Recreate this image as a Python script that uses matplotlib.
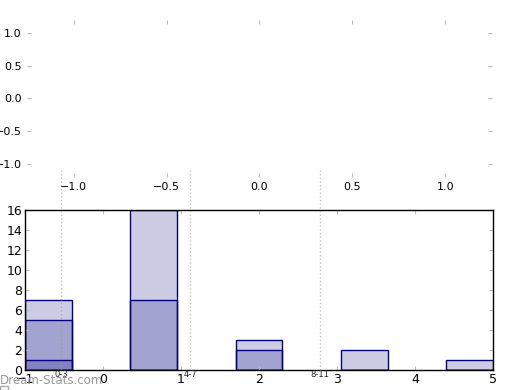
import matplotlib
matplotlib.use("Agg")
import matplotlib.pyplot as plt
from matplotlib.patches import Rectangle

# bar groups (left edges) and the three overlapping series
bar_left = [-1.0, 0.35, 1.7, 3.05, 4.4]
series_a = [7, 16, 3, 2, 1]
series_b = [5, 7, 2, 0, 0]
series_c = [1, 0, 0, 0, 0]

# dotted range markers
range_pos = [-0.54, 1.12, 2.78]
range_labels = ["0-3", "4-7", "8-11"]

x_ticks = [-1, 0, 1, 2, 3, 4, 5]
y_ticks = [0, 2, 4, 6, 8, 10, 12, 14, 16]
top_ticks = [-1.0, -0.5, 0.0, 0.5, 1.0]

fig = plt.figure(figsize=(5.2, 3.9), dpi=100)

# empty top axes with no frame
ax1 = fig.add_axes([0.052, 0.547, 0.894, 0.401])
ax1.set_xlim(-1.25, 1.25)
ax1.set_ylim(-1.2, 1.2)
ax1.set_xticks(top_ticks)
ax1.set_yticks(top_ticks)
for s in ax1.spines.values():
    s.set_visible(False)
ax1.tick_params(direction="in", length=3, color="#bbbbbb", labelsize=8,
                top=True, right=True, pad=4)

# bar axes
ax2 = fig.add_axes([0.048, 0.051, 0.9, 0.41])
for vals in (series_a, series_b, series_c):
    ax2.bar(bar_left, vals, width=0.6, align="edge", color="navy",
            alpha=0.2, edgecolor="none")
    ax2.bar(bar_left, vals, width=0.6, align="edge", fill=False,
            edgecolor="navy", linewidth=1)
ax2.set_xlim(-1, 5)
ax2.set_ylim(0, 16)
ax2.set_xticks(x_ticks)
ax2.set_yticks(y_ticks)
ax2.tick_params(direction="in", length=3, color="#bbbbbb", labelsize=9,
                top=True, right=True, pad=2)
for s in ax2.spines.values():
    s.set_linewidth(1)

for xp, lab in zip(range_pos, range_labels):
    ax2.axvline(xp, ymin=0, ymax=1.25, color="#999999", linestyle=":",
                linewidth=1, alpha=0.6, clip_on=False, zorder=5)
    ax2.text(xp, 0.05, lab, ha="center", va="top", fontsize=6,
             color="#222222")

# watermark
fig.text(0.0, 0.025, "Dream-Stats.com", fontsize=8.5, color="#999999",
         ha="left", va="center")
fig.patches.append(Rectangle((0.0, 0.0), 0.015, 0.01, transform=fig.transFigure,
                             fill=False, edgecolor="#aaaaaa", linewidth=1))

fig.savefig("out.png", dpi=100)
